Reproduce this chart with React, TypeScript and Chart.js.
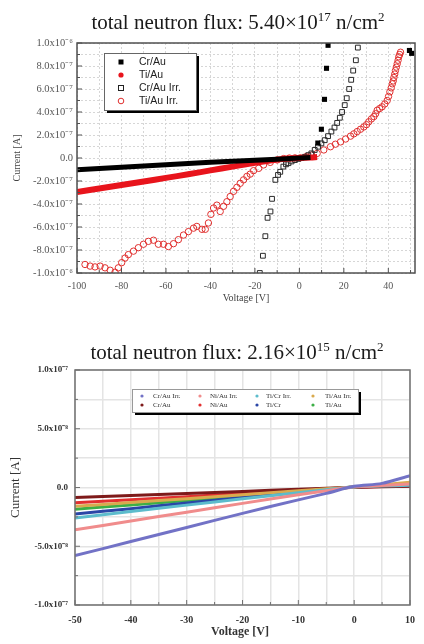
import React, { useEffect, useRef } from 'react';
import { Chart, registerables } from 'chart.js';
Chart.register(...registerables);

const SERIF = '"Liberation Serif", "Times New Roman", serif';
const SANS = '"Liberation Sans", Arial, sans-serif';

// ---------------- top chart (5.40e17 n/cm2) ----------------
const crAuV = [-100, -80, -60, -40, -20, -10, 0, 5, 8.3, 9.9, 11.3, 12.2, 12.9, 49.5, 50.5];
const crAuI = [-1.02e-7, -0.8e-7, -0.58e-7, -0.38e-7, -0.19e-7, -0.1e-7, -0.01e-7, 0.05e-7, 1.3e-7, 2.5e-7, 5.1e-7, 7.8e-7, 9.8e-7, 9.35e-7, 9.1e-7];

const tiAuV = [-100, -90, -80, -70, -60, -50, -40, -30, -20, -10, -5, 0, 5, 8];
const tiAuI = [-2.95e-7, -2.65e-7, -2.35e-7, -2.05e-7, -1.73e-7, -1.42e-7, -1.08e-7, -0.75e-7, -0.42e-7, -0.14e-7, -0.05e-7, 0, 0.04e-7, 0.08e-7];

const crAuIrrV = [-17.8, -16.4, -15.3, -14.3, -13, -12.3, -10.8, -9.6, -8.6, -7.2, -6, -4.9, -3.5, -2, -0.5, 1, 2.5, 4, 5.4, 6.9, 8.4, 9.9, 11.4, 12.9, 14.4, 15.8, 17, 18.2, 19.2, 20.4, 21.3, 22.4, 23.3, 24.2, 25.4, 26.3];
const crAuIrrI = [-10.0e-7, -8.5e-7, -6.8e-7, -5.2e-7, -4.65e-7, -3.55e-7, -1.9e-7, -1.47e-7, -1.2e-7, -0.75e-7, -0.55e-7, -0.45e-7, -0.3e-7, -0.18e-7, -0.08e-7, 0, 0.1e-7, 0.25e-7, 0.4e-7, 0.7e-7, 0.98e-7, 1.27e-7, 1.55e-7, 1.9e-7, 2.3e-7, 2.65e-7, 3.05e-7, 3.5e-7, 4.0e-7, 4.6e-7, 5.2e-7, 6.0e-7, 6.8e-7, 7.6e-7, 8.5e-7, 9.6e-7];

const tiAuIrrV = [-96.4, -94.1, -91.9, -89.6, -87.4, -85.1, -82.9, -81.4, -79.9, -78.4, -76.9, -74.6, -72.4, -70.1, -67.9, -65.6, -63.4, -61.1, -58.9, -56.6, -54.4, -52.1, -49.9, -47.6, -46.1, -43.8, -42.3, -40.9, -39.8, -38.6, -37.1, -35.6, -34.1, -32.6, -31.1, -29.6, -28.1, -26.6, -25.1, -23.6, -22.1, -20.6, -18.3, -16.1, -13.1, -10.0, -7.1, -4.5, -2.0, 0.5, 3, 5.5, 8, 11, 14, 16.2, 18.5, 20.8, 23, 24.5, 26, 27.5, 29, 30.2, 31.2, 32.4, 33.5, 34.3, 35, 36.1, 37.2, 38.4, 39.5, 40.1, 40.7, 41.3, 41.8, 42.2, 42.5, 42.9, 43.2, 43.6, 44, 44.4, 44.7, 45.1, 45.5];
const tiAuIrrI = [-9.26e-7, -9.4e-7, -9.47e-7, -9.4e-7, -9.55e-7, -9.76e-7, -9.93e-7, -9.55e-7, -9.1e-7, -8.7e-7, -8.4e-7, -8.1e-7, -7.8e-7, -7.5e-7, -7.25e-7, -7.15e-7, -7.5e-7, -7.5e-7, -7.7e-7, -7.45e-7, -7.1e-7, -6.7e-7, -6.4e-7, -6.1e-7, -5.95e-7, -6.2e-7, -6.2e-7, -5.65e-7, -4.9e-7, -4.35e-7, -4.1e-7, -4.65e-7, -4.2e-7, -3.8e-7, -3.35e-7, -2.9e-7, -2.55e-7, -2.2e-7, -1.9e-7, -1.6e-7, -1.4e-7, -1.1e-7, -0.9e-7, -0.6e-7, -0.38e-7, -0.17e-7, -0.05e-7, 0, 0.01e-7, 0.02e-7, 0.12e-7, 0.25e-7, 0.4e-7, 0.7e-7, 0.98e-7, 1.2e-7, 1.4e-7, 1.65e-7, 1.9e-7, 2.1e-7, 2.3e-7, 2.5e-7, 2.7e-7, 2.9e-7, 3.15e-7, 3.4e-7, 3.6e-7, 3.85e-7, 4.15e-7, 4.3e-7, 4.45e-7, 4.7e-7, 5.0e-7, 5.35e-7, 5.75e-7, 6.1e-7, 6.45e-7, 6.7e-7, 7.0e-7, 7.3e-7, 7.6e-7, 7.9e-7, 8.2e-7, 8.5e-7, 8.8e-7, 9.0e-7, 9.2e-7];

const topXTickValues = [-100, -90, -80, -70, -60, -50, -40, -30, -20, -10, 0, 10, 20, 30, 40, 50];
const topXTickLabels = ['-100', '', '-80', '', '-60', '', '-40', '', '-20', '', '0', '', '20', '', '40', ''];
const topYTickValues = [-1e-6, -9e-7, -8e-7, -7e-7, -6e-7, -5e-7, -4e-7, -3e-7, -2e-7, -1e-7, 0, 1e-7, 2e-7, 3e-7, 4e-7, 5e-7, 6e-7, 7e-7, 8e-7, 9e-7, 1e-6];
const topYTickLabels = ['-1.0x10⁻⁶', '', '-8.0x10⁻⁷', '', '-6.0x10⁻⁷', '', '-4.0x10⁻⁷', '', '-2.0x10⁻⁷', '', '0.0', '', '2.0x10⁻⁷', '', '4.0x10⁻⁷', '', '6.0x10⁻⁷', '', '8.0x10⁻⁷', '', '1.0x10⁻⁶'];
const topLegend = ['Cr/Au', 'Ti/Au', 'Cr/Au Irr.', 'Ti/Au Irr.'];

// ---------------- bottom chart (2.16e15 n/cm2) ----------------
const botV = [-50, -40, -30, -20, -10, -5, 0, 5, 10];
const crAuIrrB = [-5.8e-8, -4.6e-8, -3.4e-8, -2.2e-8, -1.05e-8, -0.5e-8, 0.1e-8, 0.35e-8, 1.0e-8];
const niAuIrrB = [-3.6e-8, -2.85e-8, -2.1e-8, -1.35e-8, -0.62e-8, -0.27e-8, 0.06e-8, 0.16e-8, 0.3e-8];
const tiCrIrrB = [-2.6e-8, -2.05e-8, -1.5e-8, -0.96e-8, -0.44e-8, -0.19e-8, 0.05e-8, 0.12e-8, 0.2e-8];
const tiCrB = [-2.25e-8, -1.8e-8, -1.32e-8, -0.85e-8, -0.39e-8, -0.17e-8, 0.04e-8, 0.1e-8, 0.15e-8];
const tiAuB = [-1.85e-8, -1.48e-8, -1.1e-8, -0.71e-8, -0.33e-8, -0.14e-8, 0.04e-8, 0.14e-8, 0.25e-8];
const tiAuIrrB = [-1.6e-8, -1.28e-8, -0.95e-8, -0.61e-8, -0.28e-8, -0.11e-8, 0.04e-8, 0.22e-8, 0.45e-8];
const niAuB = [-1.3e-8, -1.04e-8, -0.78e-8, -0.5e-8, -0.23e-8, -0.1e-8, 0.03e-8, 0.09e-8, 0.15e-8];
const crAuB = [-0.85e-8, -0.68e-8, -0.51e-8, -0.33e-8, -0.15e-8, -0.06e-8, 0.02e-8, 0.06e-8, 0.1e-8];

const botNames = ['Cr/Au Irr.', 'Ni/Au Irr.', 'Ti/Cr Irr.', 'Ti/Au Irr.', 'Cr/Au', 'Ni/Au', 'Ti/Cr', 'Ti/Au'];
const botSeries = [crAuIrrB, niAuIrrB, tiCrIrrB, tiAuIrrB, crAuB, niAuB, tiCrB, tiAuB];
const botColors = ['#7272c6', '#f08c8c', '#5cbccc', '#d9aa4e', '#7e1a1a', '#e23030', '#2a46a6', '#3caf46'];

const botXTickValues = [-50, -45, -40, -35, -30, -25, -20, -15, -10, -5, 0, 5, 10];
const botXTickLabels = ['-50', '', '-40', '', '-30', '', '-20', '', '-10', '', '0', '', '10'];
const botYTickValues = [-1e-7, -7.5e-8, -5e-8, -2.5e-8, 0, 2.5e-8, 5e-8, 7.5e-8, 1e-7];
const botYTickLabels = ['-1.0x10⁻⁷', '', '-5.0x10⁻⁸', '', '0.0', '', '5.0x10⁻⁸', '', '1.0x10⁻⁷'];

const pts = (xs: number[], ys: number[]) => xs.map((x, i) => ({ x, y: ys[i] }));

type Part = { t: string; sup?: boolean };
function drawRich(ctx: CanvasRenderingContext2D, parts: Part[], cx: number, base: number, size: number, color: string) {
  const supSize = size * 0.62;
  let total = 0;
  const widths = parts.map((p) => {
    ctx.font = `${p.sup ? supSize : size}px ${SERIF}`;
    const w = ctx.measureText(p.t).width;
    total += w;
    return w;
  });
  let x = cx - total / 2;
  ctx.fillStyle = color;
  ctx.textAlign = 'left';
  ctx.textBaseline = 'alphabetic';
  parts.forEach((p, i) => {
    ctx.font = `${p.sup ? supSize : size}px ${SERIF}`;
    ctx.fillText(p.t, x, p.sup ? base - size * 0.4 : base);
    x += widths[i];
  });
}

function line(ctx: CanvasRenderingContext2D, x1: number, y1: number, x2: number, y2: number) {
  ctx.beginPath();
  ctx.moveTo(x1, y1);
  ctx.lineTo(x2, y2);
  ctx.stroke();
}

function scaleCfg(opt: any) {
  return {
    type: 'linear',
    min: opt.min,
    max: opt.max,
    afterFit: opt.afterFit,
    afterBuildTicks: (s: any) => {
      s.ticks = opt.values.map((v: number) => ({ value: v }));
    },
    ticks: {
      autoSkip: false,
      maxRotation: 0,
      padding: opt.padding,
      color: opt.tickColor,
      font: { family: SERIF, size: opt.fontSize, weight: opt.bold ? 'bold' : 'normal' },
      callback: (_v: any, i: number) => opt.labels[i],
    },
    grid: { color: opt.gridColor, lineWidth: opt.gridWidth, drawTicks: false },
    border: { display: false, dash: opt.dash },
  };
}

function frameTicks(chart: any, xv: number[], xl: string[], yv: number[], yl: string[], frameColor: string, frameWidth: number) {
  const { ctx, chartArea: a, scales } = chart;
  ctx.save();
  ctx.strokeStyle = frameColor;
  ctx.lineWidth = 1;
  yv.forEach((v, i) => {
    const py = scales.y.getPixelForValue(v);
    const len = yl[i] ? 5 : 3;
    line(ctx, a.left, py, a.left + len, py);
  });
  xv.forEach((v, i) => {
    const px = scales.x.getPixelForValue(v);
    const len = xl[i] ? 5 : 3;
    line(ctx, px, a.bottom, px, a.bottom - len);
  });
  ctx.lineWidth = frameWidth;
  ctx.strokeRect(a.left, a.top, a.right - a.left, a.bottom - a.top);
  ctx.restore();
}

const topPlugin = {
  id: 'topDecor',
  afterDraw(chart: any) {
    const { ctx, chartArea: a } = chart;
    frameTicks(chart, topXTickValues, topXTickLabels, topYTickValues, topYTickLabels, '#505050', 1.5);
    ctx.save();
    drawRich(ctx, [{ t: 'total neutron flux: 5.40×10' }, { t: '17', sup: true }, { t: ' n/cm' }, { t: '2', sup: true }], 238, 29, 21, '#1a1a1a');
    // axis titles
    ctx.fillStyle = '#444';
    ctx.font = `10px ${SERIF}`;
    ctx.textAlign = 'center';
    ctx.textBaseline = 'middle';
    ctx.fillText('Voltage [V]', (a.left + a.right) / 2, 298);
    ctx.save();
    ctx.translate(17, (a.top + a.bottom) / 2);
    ctx.rotate(-Math.PI / 2);
    ctx.fillText('Current [A]', 0, 0);
    ctx.restore();
    // legend box
    const bx = 104, by = 53, bw = 92, bh = 57;
    ctx.fillStyle = '#000';
    ctx.fillRect(bx + 3, by + 3, bw, bh);
    ctx.fillStyle = '#fff';
    ctx.fillRect(bx, by, bw, bh);
    ctx.strokeStyle = '#666';
    ctx.lineWidth = 1;
    ctx.strokeRect(bx + 0.5, by + 0.5, bw, bh);
    const rows = [62, 75, 88, 101];
    const mx = 121;
    ctx.fillStyle = '#000';
    ctx.fillRect(mx - 2.5, rows[0] - 2.5, 5, 5);
    ctx.fillStyle = '#e8141c';
    ctx.beginPath(); ctx.arc(mx, rows[1], 2.6, 0, Math.PI * 2); ctx.fill();
    ctx.strokeStyle = '#222';
    ctx.strokeRect(mx - 2.5, rows[2] - 2.5, 5, 5);
    ctx.strokeStyle = '#e0302f';
    ctx.beginPath(); ctx.arc(mx, rows[3], 2.8, 0, Math.PI * 2); ctx.stroke();
    ctx.fillStyle = '#222';
    ctx.font = `10.5px ${SANS}`;
    ctx.textAlign = 'left';
    ctx.textBaseline = 'middle';
    topLegend.forEach((t, i) => ctx.fillText(t, 139, rows[i]));
    ctx.restore();
  },
};

const botPlugin = {
  id: 'botDecor',
  afterDraw(chart: any) {
    const { ctx, chartArea: a } = chart;
    frameTicks(chart, botXTickValues, botXTickLabels, botYTickValues, botYTickLabels, '#707070', 1.5);
    ctx.save();
    drawRich(ctx, [{ t: 'total neutron flux: 2.16×10' }, { t: '15', sup: true }, { t: ' n/cm' }, { t: '2', sup: true }], 237, 39, 21, '#1a1a1a');
    ctx.fillStyle = '#333';
    ctx.font = `bold 12px ${SERIF}`;
    ctx.textAlign = 'center';
    ctx.textBaseline = 'middle';
    ctx.fillText('Voltage [V]', 240, 312);
    ctx.save();
    ctx.translate(16, (a.top + a.bottom) / 2);
    ctx.rotate(-Math.PI / 2);
    ctx.font = `13px ${SERIF}`;
    ctx.fillText('Current [A]', 0, 0);
    ctx.restore();
    // legend
    const bx = 132, by = 69, bw = 226, bh = 23;
    ctx.fillStyle = '#000';
    ctx.fillRect(bx + 3, by + 3, bw, bh);
    ctx.fillStyle = '#fff';
    ctx.fillRect(bx, by, bw, bh);
    ctx.strokeStyle = '#999';
    ctx.lineWidth = 1;
    ctx.strokeRect(bx + 0.5, by + 0.5, bw, bh);
    const colM = [142, 200, 257, 313];
    const colT = [153, 210, 266, 325];
    const rowY = [76, 85];
    ctx.font = `7px ${SERIF}`;
    ctx.textAlign = 'left';
    ctx.textBaseline = 'middle';
    botNames.forEach((n, i) => {
      const r = Math.floor(i / 4), c = i % 4;
      ctx.fillStyle = botColors[i];
      ctx.beginPath(); ctx.arc(colM[c], rowY[r], 1.6, 0, Math.PI * 2); ctx.fill();
      ctx.fillStyle = '#333';
      ctx.fillText(n, colT[c], rowY[r]);
    });
    ctx.restore();
  },
};

const DENSE_END = 5.5;

export default function App() {
  const topRef = useRef<HTMLCanvasElement>(null);
  const botRef = useRef<HTMLCanvasElement>(null);

  useEffect(() => {
    const top = new Chart(topRef.current as HTMLCanvasElement, {
      type: 'scatter',
      data: {
        datasets: [
          {
            label: 'Cr/Au',
            data: pts(crAuV, crAuI),
            showLine: true,
            borderColor: '#000',
            backgroundColor: '#000',
            borderWidth: 5,
            pointStyle: 'rect',
            pointBorderWidth: 0,
            pointRadius: (c: any) => (c.parsed && c.parsed.x > DENSE_END ? 3.6 : 0),
            segment: { borderColor: (c: any) => (c.p1.parsed.x > DENSE_END ? 'rgba(0,0,0,0)' : '#000') },
          } as any,
          {
            label: 'Ti/Au',
            data: pts(tiAuV, tiAuI),
            showLine: true,
            borderColor: '#e8141c',
            backgroundColor: '#e8141c',
            borderWidth: 6,
            pointRadius: 0,
            tension: 0.3,
          },
          {
            label: 'Cr/Au Irr.',
            data: pts(crAuIrrV, crAuIrrI),
            showLine: false,
            pointStyle: 'rect',
            pointRadius: 3.4,
            pointBorderWidth: 1,
            pointBorderColor: '#2a2a2a',
            pointBackgroundColor: 'rgba(255,255,255,0)',
          },
          {
            label: 'Ti/Au Irr.',
            data: pts(tiAuIrrV, tiAuIrrI),
            showLine: false,
            pointStyle: 'circle',
            pointRadius: 3.2,
            pointBorderWidth: 1,
            pointBorderColor: '#e0302f',
            pointBackgroundColor: 'rgba(255,255,255,0)',
          },
        ],
      },
      options: {
        responsive: false,
        animation: false,
        events: [],
        layout: { padding: { top: 43, right: 9, left: 0, bottom: 0 } },
        plugins: { legend: { display: false }, tooltip: { enabled: false }, title: { display: false } },
        scales: {
          x: scaleCfg({
            min: -100, max: 52, values: topXTickValues, labels: topXTickLabels, padding: 7,
            tickColor: '#555', fontSize: 10, gridColor: '#d6d6d6', gridWidth: 1, dash: [2, 2],
            afterFit: (s: any) => { s.height = 47; },
          }),
          y: scaleCfg({
            min: -1e-6, max: 1e-6, values: topYTickValues, labels: topYTickLabels, padding: 4,
            tickColor: '#555', fontSize: 10.5, gridColor: '#d6d6d6', gridWidth: 1, dash: [2, 2],
            afterFit: (s: any) => { s.width = 77; },
          }),
        } as any,
      },
      plugins: [topPlugin],
    });

    const bot = new Chart(botRef.current as HTMLCanvasElement, {
      type: 'scatter',
      data: {
        datasets: botSeries.map((s, i) => ({
          label: botNames[i],
          data: pts(botV, s),
          showLine: true,
          borderColor: botColors[i],
          backgroundColor: botColors[i],
          borderWidth: 3,
          pointRadius: 0,
          tension: 0.3,
        })),
      },
      options: {
        responsive: false,
        animation: false,
        events: [],
        layout: { padding: { top: 50, right: 8, left: 0, bottom: 0 } },
        plugins: { legend: { display: false }, tooltip: { enabled: false }, title: { display: false } },
        scales: {
          x: scaleCfg({
            min: -50, max: 10, values: botXTickValues, labels: botXTickLabels, padding: 9,
            tickColor: '#333', fontSize: 10, bold: true, gridColor: '#e4e4e4', gridWidth: 1.5, dash: [],
            afterFit: (s: any) => { s.height = 39; },
          }),
          y: scaleCfg({
            min: -1e-7, max: 1e-7, values: botYTickValues, labels: botYTickLabels, padding: 7,
            tickColor: '#333', fontSize: 9, bold: true, gridColor: '#e4e4e4', gridWidth: 1.5, dash: [],
            afterFit: (s: any) => { s.width = 75; },
          }),
        } as any,
      },
      plugins: [botPlugin],
    });

    return () => {
      top.destroy();
      bot.destroy();
    };
  }, []);

  return (
    <div style={{ position: 'absolute', left: 0, top: 0, width: 424, height: 644, background: '#fff' }}>
      <canvas ref={topRef} width={424} height={320} style={{ display: 'block' }} />
      <canvas ref={botRef} width={424} height={324} style={{ display: 'block' }} />
    </div>
  );
}
